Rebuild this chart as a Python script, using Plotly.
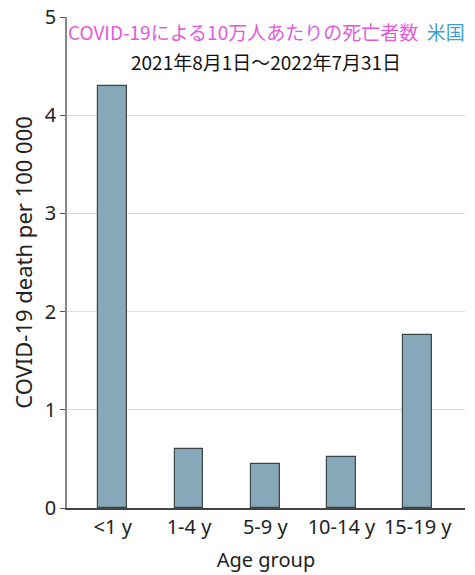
import plotly.graph_objects as go

age_groups = ['<1 y', '1-4 y', '5-9 y', '10-14 y', '15-19 y']
deaths_per_100k = [4.30, 0.60, 0.45, 0.52, 1.76]
y_ticks = [0, 1, 2, 3, 4, 5]

title_main = 'COVID-19による10万人あたりの死亡者数'
title_country = '米国'
title_period = '2021年8月1日〜2022年7月31日'

fig = go.Figure()
fig.add_trace(go.Bar(
    x=age_groups,
    y=deaths_per_100k,
    width=0.38,
    marker=dict(color='#87a8b8', line=dict(color='#3d4448', width=1.2)),
))

jp_font = 'Noto Sans CJK JP'
fig.add_annotation(
    x=0.5, y=1.0, xref='paper', yref='paper', xanchor='center', yanchor='top', yshift=1,
    text=f"<span style='color:#e459db'>{title_main}</span>  <span style='color:#3f9fd0'>{title_country}</span>",
    showarrow=False, font=dict(family=jp_font, size=19),
)
fig.add_annotation(
    x=0.5, y=1.0, xref='paper', yref='paper', xanchor='center', yanchor='top', yshift=-29,
    text=title_period, showarrow=False, font=dict(family=jp_font, size=19, color='#111'),
)

fig.update_layout(
    width=475, height=575,
    margin=dict(l=67, r=10, t=17, b=67),
    plot_bgcolor='white', paper_bgcolor='white',
    font=dict(family='Noto Sans', color='#222'),
    showlegend=False,
    bargap=0,
)
fig.update_xaxes(
    range=[-0.6, 4.62], automargin=False,
    showline=True, linecolor='#444', linewidth=1.5,
    ticks='', tickfont=dict(size=20),
    title=dict(text='Age group', font=dict(size=20), standoff=14),
)
fig.update_yaxes(
    range=[0, 5], tickvals=y_ticks, automargin=False,
    showgrid=True, gridcolor='#dcdcdc', gridwidth=1,
    showline=True, linecolor='#888', linewidth=1.5,
    ticks='outside', ticklen=5, tickcolor='#555',
    tickfont=dict(size=20), zeroline=False, ticklabeloverflow='allow',
    title=dict(text='COVID-19 death per 100 000', font=dict(size=22), standoff=6),
)

# drop the default 8px body margin so the figure sits at the page corner
fig.write_html('out.html', config={'displayModeBar': False},
               post_script="document.body.style.margin='0';")
